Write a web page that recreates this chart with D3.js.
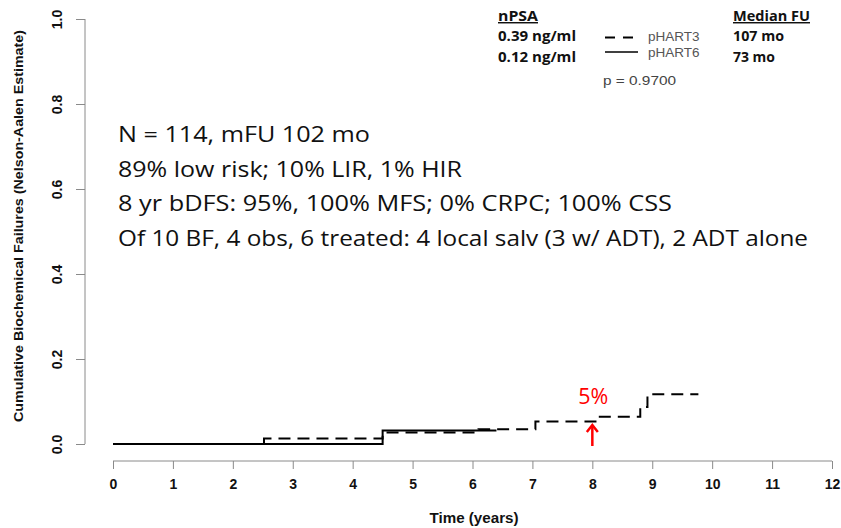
<!DOCTYPE html>
<html>
<head>
<meta charset="utf-8">
<script src="https://cdn.jsdelivr.net/npm/d3@7"></script>
<style>
  html, body { margin: 0; padding: 0; background: #fff; }
  svg { display: block; }
</style>
</head>
<body>
<div id="chart"></div>
<script>
// Nelson-Aalen cumulative biochemical failure curves (step functions)
const hart3Times  = [0, 2.52, 4.5, 6.1, 7.05, 8.08, 8.8, 8.92, 9.77];
const hart3Values = [0, 0.013, 0.027, 0.035, 0.053, 0.064, 0.087, 0.117, 0.117];
const hart6Times  = [0, 4.5, 6.4];
const hart6Values = [0, 0.032, 0.032];

const xTicks = [0, 1, 2, 3, 4, 5, 6, 7, 8, 9, 10, 11, 12];
const yTicks = [0, 0.2, 0.4, 0.6, 0.8, 1.0];

const summaryLines = [
  "N = 114, mFU 102 mo",
  "89% low risk; 10% LIR, 1% HIR",
  "8 yr bDFS: 95%, 100% MFS; 0% CRPC; 100% CSS",
  "Of 10 BF, 4 obs, 6 treated: 4 local salv (3 w/ ADT), 2 ADT alone"
];
const highlightTime = 8;
const highlightLabel = "5%";

const W = 841, H = 528;
const svg = d3.select("#chart").append("svg").attr("width", W).attr("height", H);

const x = d3.scaleLinear().domain([0, 12]).range([113, 832]);
const y = d3.scaleLinear().domain([0, 1]).range([444, 19]);

const axisColor = "#8a8a8a";
const tickFont = "'Liberation Sans', Arial, sans-serif";

// X axis (R style: line spans first to last tick)
const gx = svg.append("g").attr("transform", "translate(0,461)")
  .call(d3.axisBottom(x).tickValues(xTicks).tickFormat(d3.format("d")).tickSize(8).tickSizeOuter(0));
gx.select(".domain").attr("stroke", axisColor).attr("d", `M${x(0)},0H${x(12)}`);
gx.selectAll(".tick line").attr("stroke", axisColor);
gx.selectAll(".tick text").attr("y", 18).attr("dy", "0.71em")
  .attr("font-family", tickFont).attr("font-weight", "bold").attr("font-size", 14).attr("fill", "#111");

// Y axis with labels rotated parallel to the axis
const gy = svg.append("g").attr("transform", "translate(85,0)")
  .call(d3.axisLeft(y).tickValues(yTicks).tickFormat(d3.format(".1f")).tickSize(9).tickSizeOuter(0));
gy.select(".domain").attr("stroke", axisColor).attr("d", `M0,${y(0)}V${y(1)}`);
gy.selectAll(".tick line").attr("stroke", axisColor);
gy.selectAll(".tick text")
  .attr("x", null).attr("dy", null)
  .attr("transform", "translate(-28,0) rotate(-90)")
  .attr("text-anchor", "middle").attr("dominant-baseline", "central")
  .attr("font-family", tickFont).attr("font-weight", "bold").attr("font-size", 14).attr("fill", "#111");

// Axis titles
svg.append("text").attr("x", 474).attr("y", 523).attr("text-anchor", "middle")
  .attr("font-family", tickFont).attr("font-weight", "bold").attr("font-size", 14.5).attr("fill", "#111")
  .attr("textLength", 89).attr("lengthAdjust", "spacingAndGlyphs")
  .text("Time (years)");
svg.append("text").attr("transform", "translate(23,226) rotate(-90)").attr("text-anchor", "middle")
  .attr("font-family", tickFont).attr("font-weight", "bold").attr("font-size", 13.5).attr("fill", "#111")
  .attr("textLength", 392).attr("lengthAdjust", "spacingAndGlyphs")
  .text("Cumulative Biochemical Failures (Nelson-Aalen Estimate)");

// Step curves
const step = d3.line().x(d => x(d[0])).y(d => y(d[1])).curve(d3.curveStepAfter);
svg.append("path").datum(d3.zip(hart6Times, hart6Values)).attr("d", step)
  .attr("fill", "none").attr("stroke", "#000").attr("stroke-width", 2);
svg.append("path").datum(d3.zip(hart3Times, hart3Values)).attr("d", step)
  .attr("fill", "none").attr("stroke", "#000").attr("stroke-width", 2).attr("stroke-dasharray", "12,7");

// Highlight at 8 years
const hx = x(highlightTime);
svg.append("line").attr("x1", hx).attr("x2", hx).attr("y1", 446).attr("y2", 427)
  .attr("stroke", "#ff0000").attr("stroke-width", 2.5);
svg.append("path").attr("d", `M${hx - 5.5},${432}L${hx},${425}L${hx + 5.5},${432}`)
  .attr("fill", "none").attr("stroke", "#ff0000").attr("stroke-width", 2.5);
svg.append("text").attr("x", hx + 1).attr("y", 404).attr("text-anchor", "middle")
  .attr("font-family", "'Open Sans', sans-serif").attr("font-size", 22).attr("fill", "#ff0000")
  .attr("textLength", 30).attr("lengthAdjust", "spacingAndGlyphs")
  .text(highlightLabel);

// Summary text block
const sumFont = "'Open Sans', 'Noto Sans', sans-serif";
const lineWidths = [252, 344, 554, 690];
const baselines = [142, 177, 211, 246];
summaryLines.forEach((t, i) => {
  svg.append("text").attr("x", 118).attr("y", baselines[i])
    .attr("font-family", sumFont).attr("font-size", 22).attr("fill", "#111")
    .attr("textLength", lineWidths[i]).attr("lengthAdjust", "spacingAndGlyphs")
    .text(t);
});

// Legend
const legFont = "'Open Sans', 'Noto Sans', sans-serif";
const lg = svg.append("g");
function boldText(tx, ty, t, w, underline) {
  lg.append("text").attr("x", tx).attr("y", ty).attr("font-family", legFont)
    .attr("font-weight", "bold").attr("font-size", 14.5).attr("fill", "#111")
    .attr("textLength", w).attr("lengthAdjust", "spacingAndGlyphs")
    .attr("text-decoration", underline ? "underline" : null).text(t);
}
boldText(498, 21, "nPSA", 40, true);
boldText(498, 41, "0.39 ng/ml", 78);
boldText(498, 62, "0.12 ng/ml", 78);
boldText(733, 21, "Median FU", 77, true);
boldText(733, 41, "107 mo", 51);
boldText(733, 62, "73 mo", 42);

lg.append("line").attr("x1", 605).attr("x2", 634).attr("y1", 37.5).attr("y2", 37.5)
  .attr("stroke", "#000").attr("stroke-width", 2).attr("stroke-dasharray", "10,8");
lg.append("line").attr("x1", 605).attr("x2", 638).attr("y1", 52).attr("y2", 52)
  .attr("stroke", "#000").attr("stroke-width", 1.5);
lg.append("text").attr("x", 648).attr("y", 41).attr("font-family", tickFont)
  .attr("font-size", 13.5).attr("fill", "#555").text("pHART3");
lg.append("text").attr("x", 648).attr("y", 57).attr("font-family", tickFont)
  .attr("font-size", 13.5).attr("fill", "#555").text("pHART6");
lg.append("text").attr("x", 603).attr("y", 85).attr("font-family", tickFont)
  .attr("font-size", 13.5).attr("fill", "#444")
  .attr("textLength", 73).attr("lengthAdjust", "spacingAndGlyphs").text("p = 0.9700");
</script>
</body>
</html>
